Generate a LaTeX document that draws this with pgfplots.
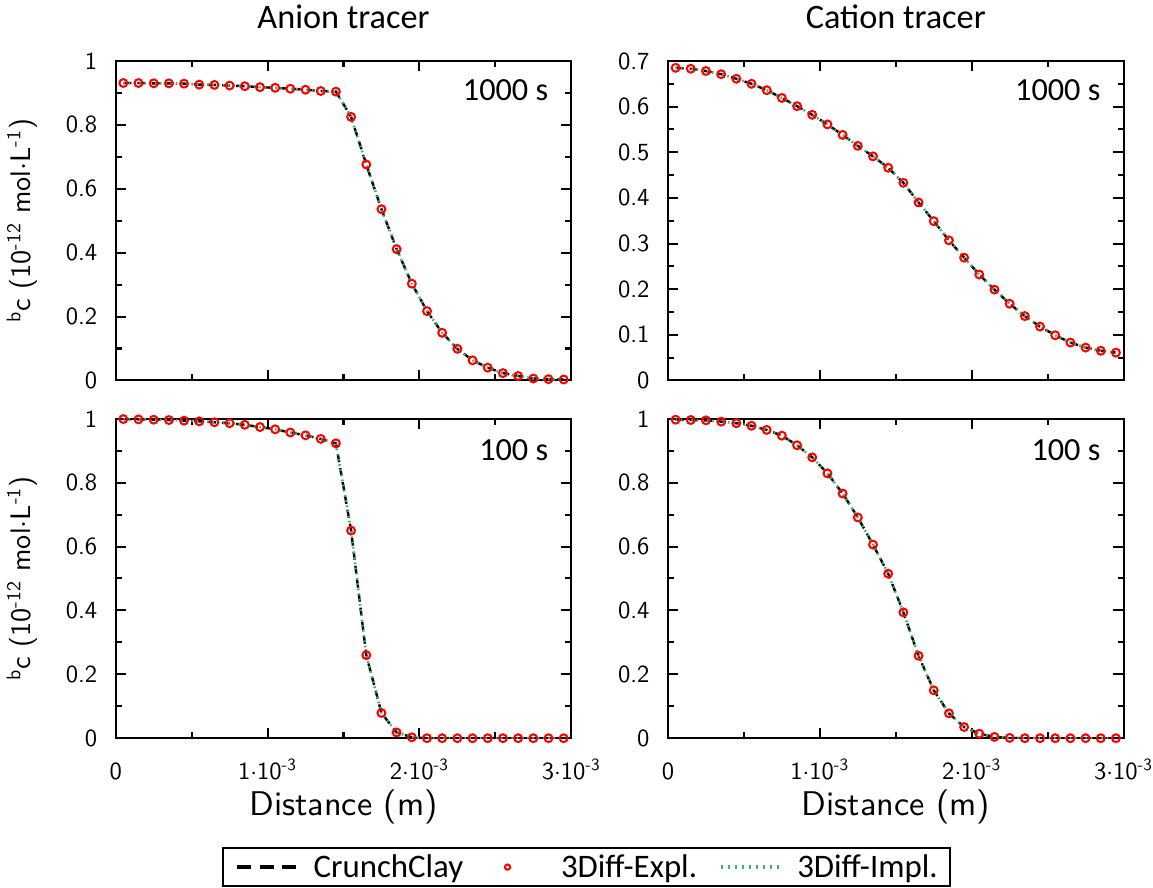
\documentclass[border=0pt]{standalone}
\usepackage{fontspec}
\setsansfont{lmsans10-regular.otf}
\newfontfamily\carlito{Carlito}
\usepackage{pgfplots}
\usepackage{pgfplotstable}
\pgfplotsset{compat=1.18}
\usepgfplotslibrary{groupplots}
\renewcommand{\familydefault}{\sfdefault}
\definecolor{implgreen}{RGB}{60,179,113}

\pgfplotstableread{
x y
0.05 0.931
0.15 0.931
0.25 0.930
0.35 0.930
0.45 0.929
0.55 0.926
0.65 0.925
0.75 0.923
0.85 0.921
0.95 0.918
1.05 0.916
1.15 0.913
1.25 0.910
1.35 0.906
1.45 0.904
1.55 0.825
1.65 0.676
1.75 0.536
1.85 0.411
1.95 0.303
2.05 0.217
2.15 0.149
2.25 0.099
2.35 0.063
2.45 0.040
2.55 0.023
2.65 0.014
2.75 0.006
2.85 0.004
2.95 0.003
}\tabTL

\pgfplotstableread{
x y
0.05 0.685
0.15 0.683
0.25 0.678
0.35 0.671
0.45 0.661
0.55 0.650
0.65 0.636
0.75 0.619
0.85 0.601
0.95 0.582
1.05 0.561
1.15 0.538
1.25 0.514
1.35 0.491
1.45 0.466
1.55 0.433
1.65 0.390
1.75 0.349
1.85 0.307
1.95 0.269
2.05 0.232
2.15 0.199
2.25 0.168
2.35 0.141
2.45 0.118
2.55 0.099
2.65 0.083
2.75 0.072
2.85 0.065
2.95 0.061
}\tabTR

\pgfplotstableread{
x y
0.05 0.999
0.15 0.998
0.25 0.997
0.35 0.996
0.45 0.994
0.55 0.992
0.65 0.989
0.75 0.986
0.85 0.981
0.95 0.974
1.05 0.967
1.15 0.957
1.25 0.948
1.35 0.937
1.45 0.923
1.55 0.650
1.65 0.260
1.75 0.079
1.85 0.018
1.95 0.003
2.05 0.000
2.15 0.000
2.25 0.000
2.35 0.000
2.45 0.000
2.55 0.000
2.65 0.000
2.75 0.000
2.85 0.000
2.95 0.000
}\tabBL

\pgfplotstableread{
x y
0.05 0.997
0.15 0.996
0.25 0.995
0.35 0.991
0.45 0.986
0.55 0.978
0.65 0.965
0.75 0.947
0.85 0.917
0.95 0.879
1.05 0.829
1.15 0.766
1.25 0.691
1.35 0.606
1.45 0.515
1.55 0.394
1.65 0.258
1.75 0.150
1.85 0.078
1.95 0.035
2.05 0.014
2.15 0.004
2.25 0.001
2.35 0.000
2.45 0.000
2.55 0.000
2.65 0.000
2.75 0.000
2.85 0.000
2.95 0.000
}\tabBR

\pgfplotsset{
  crunch/.style={black, line width=1.2pt, dash pattern=on 4pt off 3pt, no marks},
  expl/.style={red, only marks, mark=o, mark size=1.95pt, mark options={line width=1pt, solid}},
  impl/.style={implgreen, line width=1.3pt, dash pattern=on 0.8pt off 1.8pt, no marks},
  crunchleg/.style={legend image code/.code={\draw[##1, line width=2pt, dash pattern=on 7pt off 4.2pt] (0pt,0pt) -- (29.5pt,0pt);}},
  implleg/.style={legend image code/.code={\draw[##1, line width=2.2pt, dash pattern=on 1.2pt off 2.3pt] (0pt,0pt) -- (29.5pt,0pt);}},
  markleg/.style={legend image code/.code={\path (0pt,0pt) (29.5pt,0pt);\draw[##1, mark size=1.3pt, line width=0.6pt] plot coordinates {(11pt,0pt)};}},
}
\newcommand{\xlab}[1]{#1$\cdot$10\textsuperscript{-3}}
\newcommand{\xzero}{\vphantom{1\textsuperscript{-3}}0}

\begin{document}
\begin{tikzpicture}
\begin{groupplot}[
  group style={group size=2 by 2, horizontal sep=48pt, vertical sep=19pt},
  width=226pt, height=158.5pt, scale only axis,
  xmin=0, xmax=3,
  xtick={0,1,2,3},
  minor xtick={0.5,1.5,2.5},
  ymin=0,
  scaled ticks=false,
  tick align=inside,
  major tick length=5pt, minor tick length=3pt,
  every tick/.style={line width=1pt, black},
  axis line style={line width=1pt},
  tick label style={font=\fontsize{12.2}{14}\selectfont},
  xlabel style={font=\fontsize{17}{20}\selectfont, at={(axis description cs:0.5,0)}, anchor=base, yshift=-38.5pt},
  ylabel style={font=\fontsize{14}{17}\selectfont, at={(axis description cs:-0.155,0.5)}, anchor=south},
  title style={font=\carlito\fontsize{17}{20}\selectfont, at={(axis description cs:0.5,1)}, anchor=base, inner xsep=0pt, inner ysep=2.5pt, yshift=10pt},
  /pgf/number format/assume math mode=true,
  xticklabel style={anchor=north, inner sep=0pt},
  xticklabel shift=10pt,
  yticklabel style={anchor=east, inner sep=0pt, xshift=-9pt},
]
\nextgroupplot[title={Anion tracer}, ymax=1, ytick={0,0.2,...,1.0}, minor ytick={0.1,0.3,...,0.9},
  xticklabels={},
  ylabel={\textsuperscript{b}c (10\textsuperscript{-12} mol$\cdot$L\textsuperscript{-1})}]
\addplot[crunch] table {\tabTL};
\addplot[expl] table {\tabTL};
\addplot[impl] table {\tabTL};
\node[anchor=east, font=\carlito\fontsize{16}{19}\selectfont] at (rel axis cs:0.965,0.91) {1000 s};

\nextgroupplot[title={Cation tracer}, ymax=0.7, ytick={0,0.1,...,0.7}, minor ytick={0.05,0.15,...,0.65},
  xticklabels={}]
\addplot[crunch] table {\tabTR};
\addplot[expl] table {\tabTR};
\addplot[impl] table {\tabTR};
\node[anchor=east, font=\carlito\fontsize{16}{19}\selectfont] at (rel axis cs:0.965,0.91) {1000 s};

\nextgroupplot[ymax=1, ytick={0,0.2,...,1.0}, minor ytick={0.1,0.3,...,0.9},
  xticklabels={\xzero,\xlab{1},\xlab{2},\xlab{3}},
  xlabel={Distance (m)},
  ylabel={\textsuperscript{b}c (10\textsuperscript{-12} mol$\cdot$L\textsuperscript{-1})},
  legend columns=3,
  legend style={at={(1.033,-0.341)}, anchor=north, draw=black, line width=1pt,
    font=\carlito\fontsize{16.3}{19}\selectfont, inner xsep=6pt, inner ysep=1pt,
    nodes={inner xsep=0pt},
    /tikz/every odd column/.append style={column sep=7.5pt},
    /tikz/every even column/.append style={column sep=10.5pt}},
  legend cell align=left]
\addplot[crunch, crunchleg] table {\tabBL};
\addlegendentry{CrunchClay}
\addplot[expl, markleg] table {\tabBL};
\addlegendentry{3Diff-Expl.}
\addplot[impl, implleg] table {\tabBL};
\addlegendentry{3Diff-Impl.}
\node[anchor=east, font=\carlito\fontsize{16}{19}\selectfont] at (rel axis cs:0.965,0.902) {100 s};

\nextgroupplot[ymax=1, ytick={0,0.2,...,1.0}, minor ytick={0.1,0.3,...,0.9},
  xticklabels={\xzero,\xlab{1},\xlab{2},\xlab{3}},
  xlabel={Distance (m)}]
\addplot[crunch] table {\tabBR};
\addplot[expl] table {\tabBR};
\addplot[impl] table {\tabBR};
\node[anchor=east, font=\carlito\fontsize{16}{19}\selectfont] at (rel axis cs:0.965,0.902) {100 s};
\end{groupplot}
\end{tikzpicture}
\end{document}
